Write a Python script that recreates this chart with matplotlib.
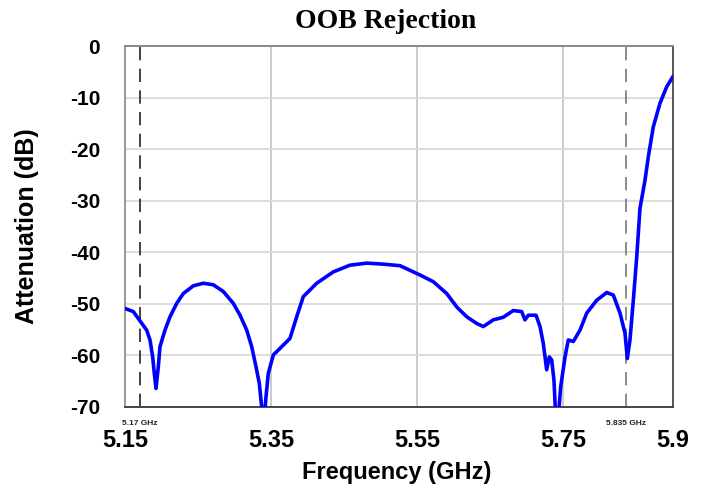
import matplotlib.pyplot as plt

plt.rcParams['axes.unicode_minus'] = False

# frequency (GHz) and attenuation (dB)
freq = [5.1500, 5.1614, 5.1715, 5.1797, 5.1842, 5.1879, 5.1901, 5.1924, 5.1956,
        5.1979, 5.2047, 5.2116, 5.2208, 5.2298, 5.2435, 5.2572, 5.2708, 5.2845,
        5.2982, 5.3074, 5.3166, 5.3234, 5.3293, 5.3338, 5.3385, 5.3410, 5.3426,
        5.3461, 5.3530, 5.3645, 5.3758, 5.3850, 5.3940, 5.4124, 5.4351, 5.4579,
        5.4808, 5.5035, 5.5264, 5.5537, 5.5719, 5.5903, 5.6040, 5.6177, 5.6313,
        5.6404, 5.6541, 5.6677, 5.6814, 5.6929, 5.6974, 5.7020, 5.7125, 5.7180,
        5.7225, 5.7271, 5.7307, 5.7340, 5.7371, 5.7395, 5.7430, 5.7463, 5.7522,
        5.7567, 5.7636, 5.7727, 5.7819, 5.7956, 5.8093, 5.8183, 5.8275, 5.8343,
        5.8375, 5.8411, 5.8457, 5.8503, 5.8548, 5.8617, 5.8662, 5.8730, 5.8822,
        5.8914, 5.8996]
atten = [-50.9, -51.5, -53.5, -55.1, -57.0, -60.3, -63.5, -66.4, -62.2,
         -58.3, -55.1, -52.5, -49.9, -48.0, -46.5, -46.0, -46.3, -47.6,
         -49.9, -52.2, -55.1, -58.3, -62.2, -65.4, -72.0, -72.0, -68.6,
         -63.5, -59.9, -58.3, -56.7, -52.5, -48.6, -46.0, -43.8, -42.5,
         -42.1, -42.3, -42.6, -44.4, -45.7, -48.0, -50.6, -52.5, -53.8,
         -54.4, -53.1, -52.6, -51.3, -51.5, -53.1, -52.2, -52.2, -54.4,
         -57.7, -62.8, -60.3, -60.9, -64.8, -72.0, -72.0, -66.1, -60.3,
         -57.0, -57.3, -55.1, -51.8, -49.3, -47.8, -48.3, -51.8, -55.7,
         -60.6, -57.0, -49.3, -41.0, -31.5, -26.0, -21.5, -15.7, -11.1,
         -7.9, -6.0]

xticks = [5.15, 5.35, 5.55, 5.75, 5.9]
xticklabels = ['5.15', '5.35', '5.55', '5.75', '5.9']
yticks = [-70, -60, -50, -40, -30, -20, -10, 0]
markers = [5.17, 5.835]
marker_labels = ['5.17 GHz', '5.835 GHz']

fig = plt.figure(figsize=(7.08, 4.91), dpi=100)
ax = fig.add_axes([125 / 708, 1 - 407 / 491, 548 / 708, 361 / 491])

for x in [5.35, 5.55, 5.75]:
    ax.axvline(x, color='#c4c4c4', lw=1.2, zorder=1)
for y in yticks[1:-1]:
    ax.axhline(y, color='#dadada', lw=1.3, zorder=1)

ax.axvline(markers[0], color='#222222', lw=1.2, ls=(0, (8, 5)), zorder=2)
ax.axvline(markers[1], color='#777777', lw=1.2, ls=(0, (8, 5)), zorder=2)

ax.plot(freq, atten, color='#0000ff', lw=2.6, zorder=3)

ax.set_xlim(5.15, 5.9)
ax.set_ylim(-70, 0)
ax.set_xticks(xticks)
ax.set_xticklabels(xticklabels)
ax.set_yticks(yticks)
ax.tick_params(length=0)
ax.tick_params(axis='x', pad=16, labelsize=17)
ax.tick_params(axis='y', pad=18, labelsize=15)
for lab in ax.get_xticklabels() + ax.get_yticklabels():
    lab.set_fontfamily('Liberation Sans')
    lab.set_fontweight('bold')

ax.spines['left'].set_color('#999999')
ax.spines['top'].set_color('#888888')
ax.spines['bottom'].set_color('#444444')
ax.spines['right'].set_color('#555555')
for side in ax.spines:
    ax.spines[side].set_linewidth(1.4)

for x, txt in zip(markers, marker_labels):
    ax.text(x, -72.6, txt, ha='center', va='top', fontsize=6,
            family='Liberation Sans', fontweight='bold', color='#222222')

ax.set_xlabel('Frequency (GHz)', family='Liberation Sans', fontweight='bold',
              fontsize=17)
ax.xaxis.set_label_coords(0.496, -0.150)
ax.set_ylabel('Attenuation (dB)', family='Liberation Sans', fontweight='bold',
              fontsize=18)
ax.yaxis.set_label_coords(-0.157, 0.5)
fig.text(386 / 708, 1 - 22 / 491, 'OOB Rejection', ha='center', va='center',
         family='Liberation Serif', fontweight='bold', fontsize=20)

fig.savefig('out.png', dpi=100)
